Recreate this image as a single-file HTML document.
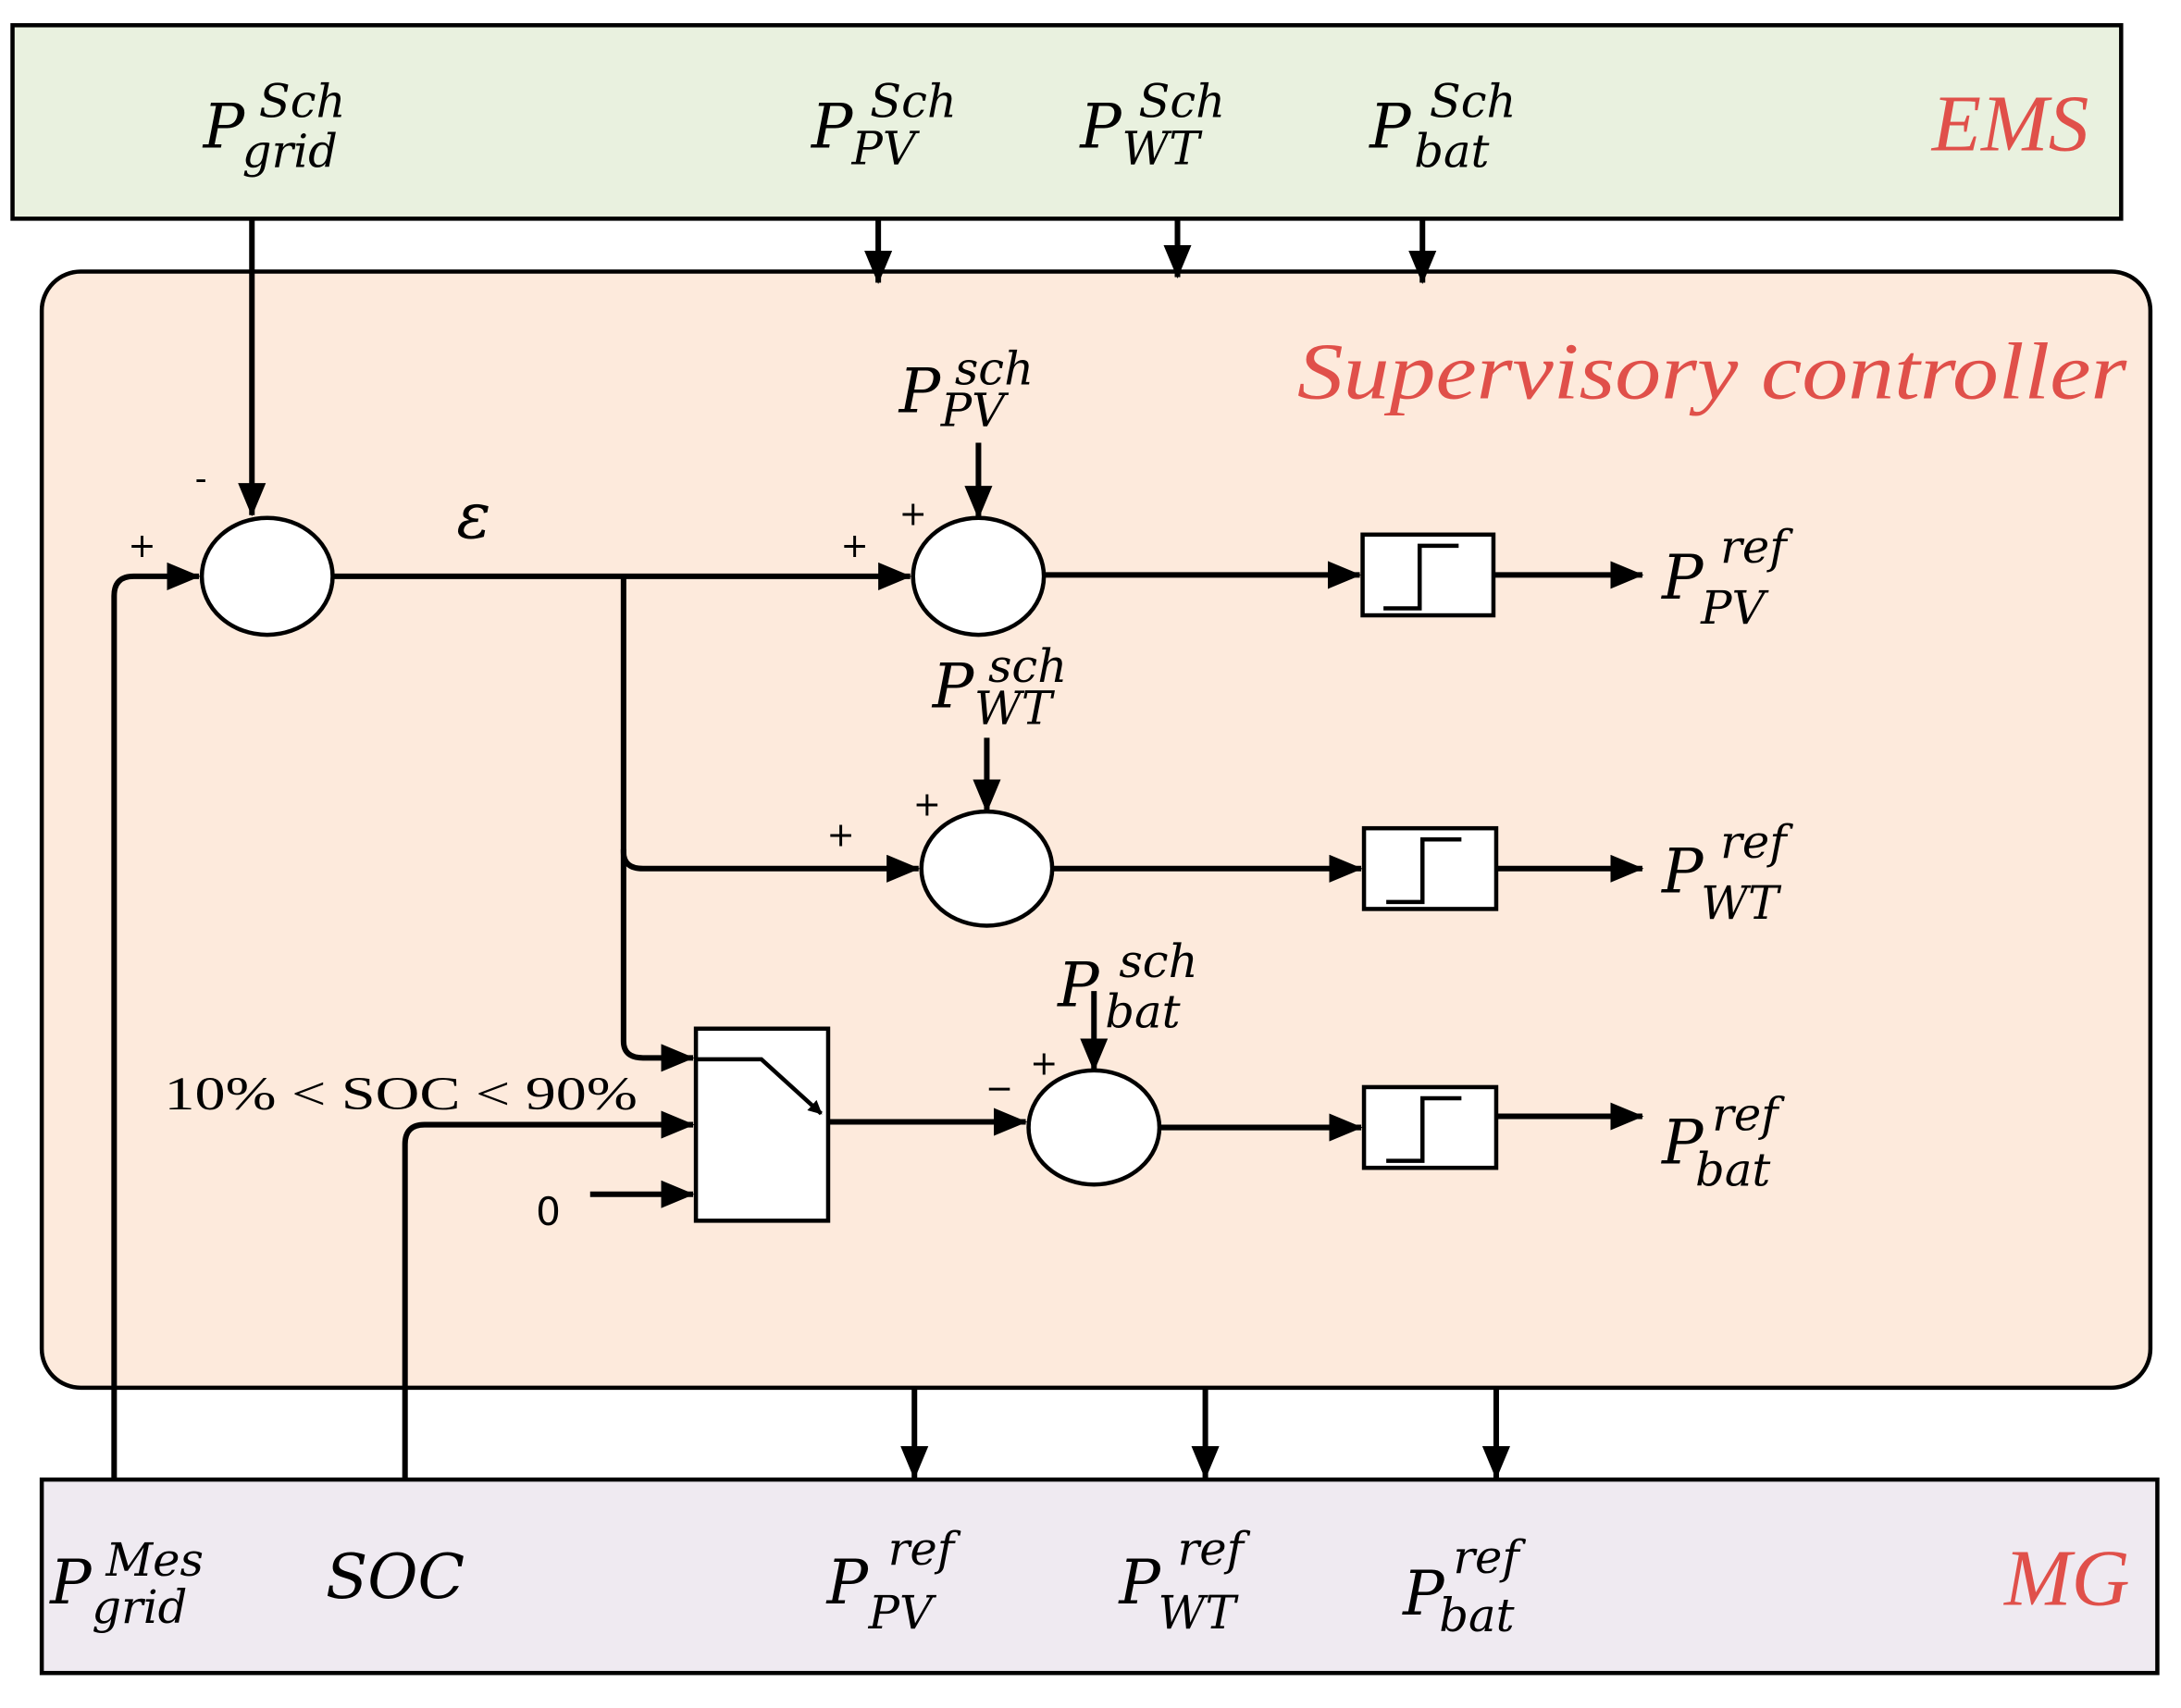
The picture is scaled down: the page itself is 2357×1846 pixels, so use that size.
<!DOCTYPE html>
<html><head><meta charset="utf-8"><style>html,body{margin:0;padding:0;background:#fff}svg{display:block}</style></head>
<body>
<svg width="2357" height="1846" viewBox="0 0 1567 1227" xmlns="http://www.w3.org/2000/svg" font-family="'Liberation Serif', serif">
<defs>
<marker id="a" markerWidth="10" markerHeight="10" refX="9" refY="5" orient="auto" markerUnits="userSpaceOnUse" viewBox="0 0 10 10"><path d="M0,0 L10,5 L0,10 Z" fill="#000"/></marker>
<marker id="b" markerWidth="24" markerHeight="20" refX="23" refY="10" orient="auto" markerUnits="userSpaceOnUse" viewBox="0 0 24 20"><path d="M0,0 L24,10 L0,20 Z" fill="#000"/></marker>
</defs>
<rect x="9" y="18" width="1515" height="139" fill="#e9f1df" stroke="#000" stroke-width="3"/>
<rect x="30" y="195" width="1515" height="802" rx="28" fill="#fdeadc" stroke="#000" stroke-width="3"/>
<rect x="30" y="1063" width="1520" height="139" fill="#efeaf1" stroke="#000" stroke-width="3"/>

<g font-style="italic" fill="#e0504a" font-size="58">
<text x="1388" y="108">EMS</text>
<text x="932" y="286" textLength="596" lengthAdjust="spacingAndGlyphs">Supervisory controller</text>
<text x="1440" y="1153">MG</text>
</g>

<g font-style="italic" fill="#000" font-family="'DejaVu Serif', serif">
<g font-size="44">
<text x="146" y="106">P</text><text x="583" y="106">P</text><text x="776" y="106">P</text><text x="984" y="106">P</text>
<text x="646" y="296">P</text><text x="670" y="508">P</text><text x="760" y="723">P</text>
<text x="1194" y="430">P</text><text x="1194" y="641">P</text><text x="1194" y="836">P</text>
<text x="36" y="1152">P</text><text x="594" y="1152">P</text><text x="804" y="1152">P</text><text x="1008" y="1160">P</text>
<text x="234" y="1148">SOC</text>
<text x="328" y="386" font-size="46">ε</text>
</g>
<g font-size="33">
<text x="186" y="84">Sch</text><text x="174" y="120">grid</text>
<text x="625" y="84">Sch</text><text x="612" y="118">PV</text>
<text x="818" y="84">Sch</text><text x="806" y="118">WT</text>
<text x="1027" y="84">Sch</text><text x="1016" y="120">bat</text>
<text x="686" y="276">sch</text><text x="676" y="306">PV</text>
<text x="710" y="490">sch</text><text x="700" y="520">WT</text>
<text x="804" y="702">sch</text><text x="794" y="738">bat</text>
<text x="1236" y="404">ref</text><text x="1222" y="448">PV</text>
<text x="1236" y="616">ref</text><text x="1222" y="660">WT</text>
<text x="1230" y="812">ref</text><text x="1218" y="852">bat</text>
<text x="76" y="1132">Mes</text><text x="66" y="1166">grid</text>
<text x="638" y="1124">ref</text><text x="624" y="1170">PV</text>
<text x="846" y="1124">ref</text><text x="832" y="1170">WT</text>
<text x="1044" y="1130">ref</text><text x="1034" y="1172">bat</text>
</g>
</g>

<g font-family="'DejaVu Sans', sans-serif" font-size="24" fill="#000">
<text x="140" y="352">-</text><text x="92" y="400">+</text>
<text x="646" y="377">+</text><text x="604" y="400">+</text>
<text x="656" y="586">+</text><text x="594" y="608">+</text>
<text x="740" y="772">+</text><text x="708" y="790">−</text>
<text x="385" y="880" font-size="28">0</text>
</g>
<text x="118" y="797" font-size="34" fill="#000" textLength="340" lengthAdjust="spacingAndGlyphs">10% &lt; SOC &lt; 90%</text>

<g stroke="#000" stroke-width="4" fill="none">
<line x1="631" y1="157" x2="631" y2="203" marker-end="url(#b)"/>
<line x1="846" y1="157" x2="846" y2="199" marker-end="url(#b)"/>
<line x1="1022" y1="157" x2="1022" y2="203" marker-end="url(#b)"/>
<line x1="181" y1="157" x2="181" y2="370" marker-end="url(#b)"/>
<line x1="657" y1="997" x2="657" y2="1062" marker-end="url(#b)"/>
<line x1="866" y1="997" x2="866" y2="1062" marker-end="url(#b)"/>
<line x1="1075" y1="997" x2="1075" y2="1062" marker-end="url(#b)"/>
<path d="M82,1063 V428 Q82,414 96,414 H143" marker-end="url(#b)"/>
<path d="M291,1063 V822 Q291,808 305,808 H498" marker-end="url(#b)"/>
<line x1="424" y1="858" x2="498" y2="858" marker-end="url(#b)"/>
<line x1="239" y1="414" x2="654" y2="414" marker-end="url(#b)"/>
<path d="M448,414 V612 Q448,624 462,624 H660" marker-end="url(#b)"/>
<path d="M448,610 V748 Q448,760 462,760 H498" marker-end="url(#b)"/>
<line x1="703" y1="318" x2="703" y2="372" marker-end="url(#b)"/>
<line x1="709" y1="530" x2="709" y2="583" marker-end="url(#b)"/>
<line x1="786" y1="712" x2="786" y2="769" marker-end="url(#b)"/>
<line x1="750" y1="413" x2="977" y2="413" marker-end="url(#b)"/>
<line x1="756" y1="624" x2="978" y2="624" marker-end="url(#b)"/>
<line x1="595" y1="806" x2="737" y2="806" marker-end="url(#b)"/>
<line x1="833" y1="810" x2="978" y2="810" marker-end="url(#b)"/>
<line x1="1073" y1="413" x2="1180" y2="413" marker-end="url(#b)"/>
<line x1="1075" y1="624" x2="1180" y2="624" marker-end="url(#b)"/>
<line x1="1075" y1="802" x2="1180" y2="802" marker-end="url(#b)"/>
</g>

<g stroke="#000" stroke-width="3" fill="#fff">
<ellipse cx="192" cy="414" rx="47" ry="42"/>
<ellipse cx="703" cy="414" rx="47" ry="42"/>
<ellipse cx="709" cy="624" rx="47" ry="41"/>
<ellipse cx="786" cy="810" rx="47" ry="41"/>
<rect x="979" y="384" width="94" height="58"/>
<rect x="980" y="595" width="95" height="58"/>
<rect x="980" y="781" width="95" height="58"/>
<rect x="500" y="739" width="95" height="138"/>
</g>
<g stroke="#000" stroke-width="3" fill="none">
<path d="M994,437 H1020 V392 H1048"/>
<path d="M996,648 H1022 V603 H1050"/>
<path d="M996,834 H1022 V789 H1050"/>
<path d="M500,761 H547 L590,800" marker-end="url(#a)"/>
</g>
</svg>
</body></html>
